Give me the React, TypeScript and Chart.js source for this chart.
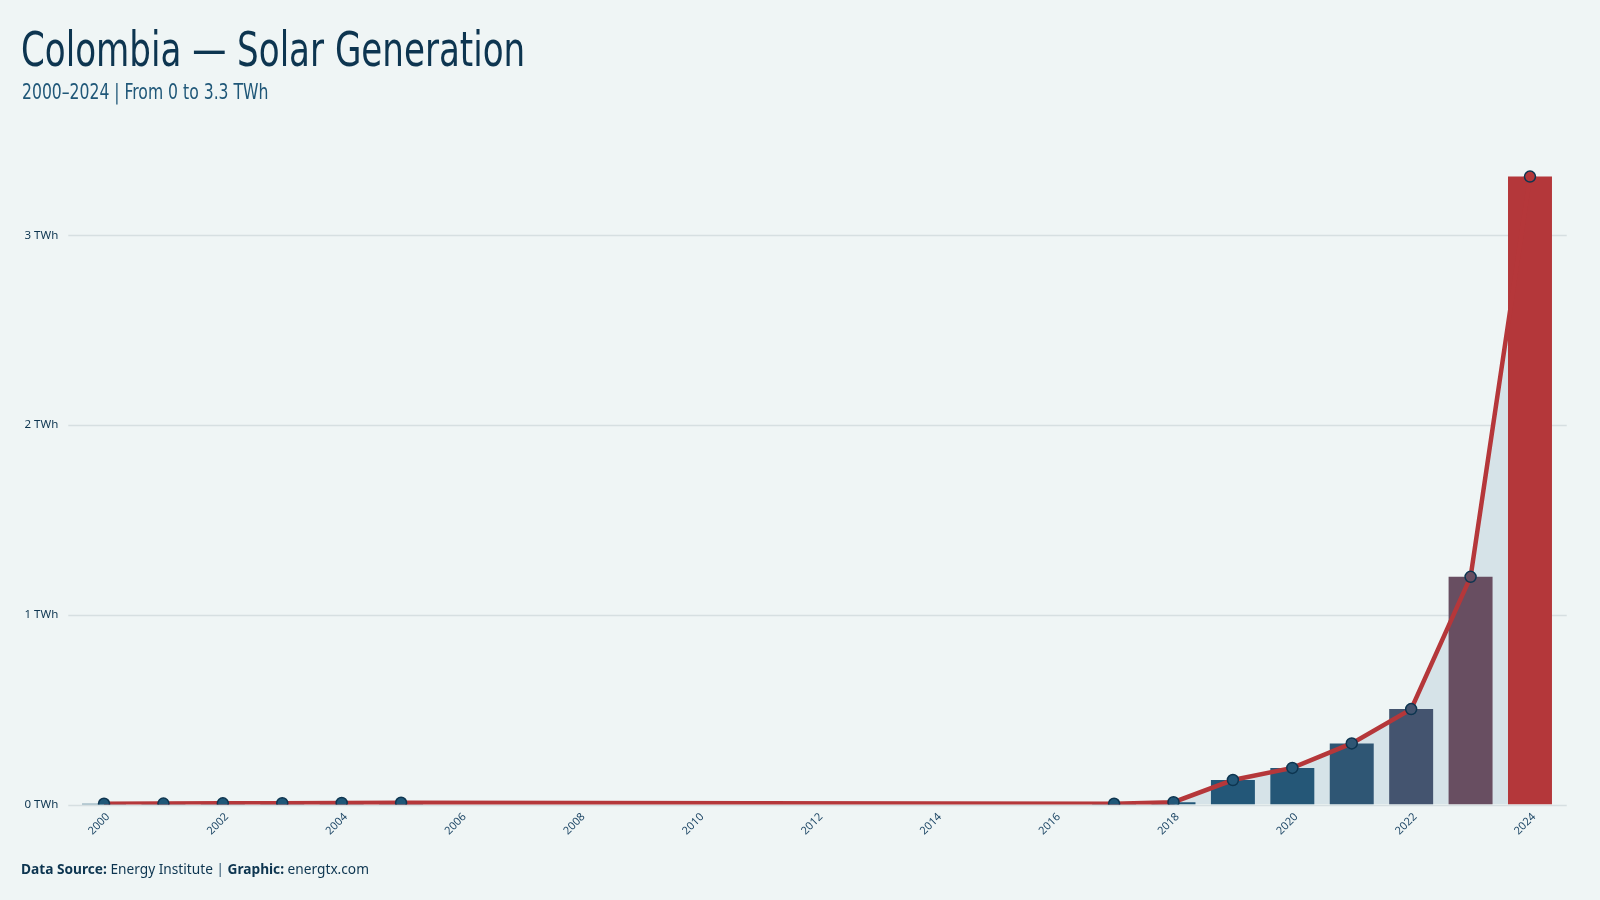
import React, { useEffect, useRef } from "react";
import { Chart, registerables } from "chart.js";

Chart.register(...registerables);

const years: string[] = [
  "2000", "2001", "2002", "2003", "2004", "2005", "2006", "2007", "2008", "2009", "2010", "2011", "2012",
  "2013", "2014", "2015", "2016", "2017", "2018", "2019", "2020", "2021", "2022", "2023", "2024",
];
const generationTWh: (number | null)[] = [
  0.004, 0.005, 0.006, 0.007, 0.008, 0.009, null, null, null, null, null, null, null,
  null, null, null, null, 0.004, 0.012, 0.129, 0.193, 0.322, 0.503, 1.2, 3.31,
];
const barColors: string[] = [
  "#1f5778", "#1f5778", "#1f5778", "#1f5778", "#1f5778", "#1f5778", "#1f5778", "#1f5778", "#1f5778",
  "#1f5778", "#1f5778", "#1f5778", "#1f5778", "#1f5778", "#1f5778", "#1f5778", "#1f5778", "#1f5778",
  "#225778", "#235778", "#255777", "#2f5674", "#44546f", "#684e61", "#b4373a",
];
const yTicks: number[] = [0, 1, 2, 3];

const BG = "#eff5f5";

const gridPlugin = {
  id: "extGrid",
  beforeDraw(chart: any) {
    const { ctx, chartArea, scales } = chart;
    const y = scales.y;
    ctx.save();
    ctx.strokeStyle = "#d6dfe1";
    ctx.lineWidth = 1.5;
    yTicks.forEach((v) => {
      const py = Math.round(y.getPixelForValue(v)) + 0.5;
      ctx.beginPath();
      ctx.moveTo(chartArea.left - 6, py);
      ctx.lineTo(chartArea.right + 7, py);
      ctx.stroke();
    });
    ctx.restore();
  },
};

function SolarChart() {
  const ref = useRef<HTMLCanvasElement | null>(null);
  useEffect(() => {
    if (!ref.current) return;
    const chart = new Chart(ref.current, {
      type: "bar",
      data: {
        labels: years,
        datasets: [
          {
            type: "line",
            label: "Line",
            data: generationTWh,
            order: 0,
            borderColor: "#b5373a",
            borderWidth: 4.5,
            backgroundColor: "#d6e3e8",
            fill: "origin",
            spanGaps: true,
            tension: 0,
            pointRadius: 5.5,
            pointBackgroundColor: barColors,
            pointBorderColor: "#0d3550",
            pointBorderWidth: 1.5,
          } as any,
          {
            type: "bar",
            label: "Bars",
            data: generationTWh,
            order: 1,
            backgroundColor: barColors,
            barPercentage: 0.74,
            categoryPercentage: 1,
          },
        ],
      },
      options: {
        animation: false,
        responsive: false,
        maintainAspectRatio: false,
        layout: { padding: { top: 150, right: 40.3, bottom: 35.5, left: 0 } },
        plugins: {
          legend: { display: false },
          tooltip: { enabled: false },
          filler: { drawTime: "beforeDatasetsDraw" } as any,
        },
        scales: {
          x: {
            grid: { display: false, drawTicks: false },
            border: { display: false },
            ticks: {
              autoSkip: false,
              minRotation: 45,
              maxRotation: 45,
              padding: 6,
              labelOffset: 4,
              color: "#1e4766",
              font: { family: "'Noto Sans', sans-serif", size: 11 },
              callback: (_v: any, i: number) => (i % 2 === 0 ? years[i] : ""),
            },
            afterFit: (s: any) => {
              s.height = 60;
            },
          },
          y: {
            min: 0,
            max: 3.45,
            grid: { display: false, drawTicks: false },
            border: { display: false },
            afterBuildTicks: (s: any) => {
              s.ticks = yTicks.map((v) => ({ value: v }));
            },
            ticks: {
              padding: 16,
              color: "#0d3550",
              font: { family: "'Noto Sans', sans-serif", size: 11.5 },
              callback: (v: any) => `${v} TWh`,
            },
            afterFit: (s: any) => {
              s.width = 74.3;
            },
          },
        },
      },
      plugins: [gridPlugin],
    });
    return () => chart.destroy();
  }, []);
  return <canvas ref={ref} width={1600} height={900} style={{ position: "absolute", left: 0, top: 0 }} />;
}

export default function App() {
  return (
    <div
      style={{
        position: "fixed",
        left: 0,
        top: 0,
        width: 1600,
        height: 900,
        background: BG,
        overflow: "hidden",
      }}
    >
      <SolarChart />
      <div
        style={{
          position: "absolute",
          left: 21,
          top: 23,
          fontFamily: "'DejaVu Sans Condensed', 'Liberation Sans Narrow', sans-serif",
          fontSize: 48,
          lineHeight: "52px",
          color: "#0d3550",
          whiteSpace: "nowrap",
          transform: "scaleX(0.79)",
          transformOrigin: "left top",
        }}
      >
        Colombia — Solar Generation
      </div>
      <div
        style={{
          position: "absolute",
          left: 22,
          top: 79,
          fontFamily: "'DejaVu Sans Condensed', 'Liberation Sans Narrow', sans-serif",
          fontSize: 22,
          lineHeight: "26px",
          color: "#1f5778",
          whiteSpace: "nowrap",
          transform: "scaleX(0.79)",
          transformOrigin: "left top",
        }}
      >
        2000–2024 | From 0 to 3.3 TWh
      </div>
      <div
        style={{
          position: "absolute",
          left: 21,
          top: 861,
          fontFamily: "'Noto Sans', sans-serif",
          fontSize: 13.7,
          lineHeight: "16px",
          color: "#0d3550",
          whiteSpace: "nowrap",
        }}
      >
        <b>Data Source:</b> Energy Institute <span style={{ color: "#6a8699", fontWeight: 700 }}>|</span> <b>Graphic:</b> energtx.com
      </div>
    </div>
  );
}
